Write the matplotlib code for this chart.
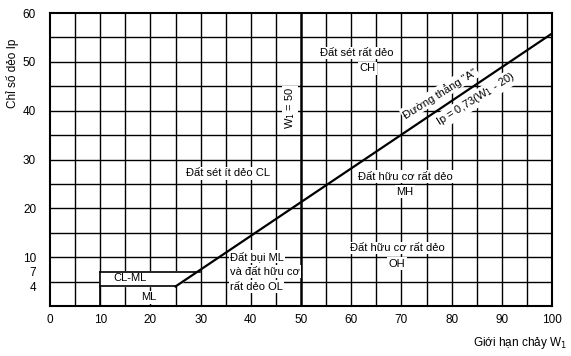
import matplotlib
matplotlib.use("Agg")
import matplotlib.pyplot as plt

plt.rcParams['font.family'] = ['Liberation Sans', 'DejaVu Sans']

# ---- data ----
x_ticks = [0, 10, 20, 30, 40, 50, 60, 70, 80, 90, 100]
y_ticks = [4, 7, 10, 20, 30, 40, 50, 60]
grid_x = [5, 10, 15, 20, 25, 30, 35, 40, 45, 55, 60, 65, 70, 75, 80, 85, 90, 95]
grid_y = [5, 10, 15, 20, 25, 30, 35, 40, 45, 50, 55]
w_line = 50
a_line_x = [25, 100]
a_line_y = [4, 55.8]
clml_poly_x = [10, 25, 29.9, 10]
clml_poly_y = [4, 4, 7, 7]

fig = plt.figure(figsize=(5.71, 3.56), dpi=100)
ax = fig.add_axes([50/571, 1-306/356, 502/571, 293/356])
ax.set_xlim(0, 100)
ax.set_ylim(0, 60)

for gx in grid_x:
    ax.axvline(gx, color='black', lw=1.0, zorder=1)
for gy in grid_y:
    ax.axhline(gy, color='black', lw=1.0, zorder=1)
ax.axvline(w_line, color='black', lw=1.8, zorder=1)

# CL-ML zone
ax.fill(clml_poly_x, clml_poly_y, color='white', zorder=2)
ax.plot([10, 10], [0, 7], color='black', lw=1.2, zorder=4)
ax.plot([10, 29.9], [7, 7], color='black', lw=1.2, zorder=4)
ax.plot([10, 25], [4, 4], color='black', lw=1.2, zorder=4)
ax.plot(a_line_x, a_line_y, color='black', lw=1.6, zorder=5)

for s in ax.spines.values():
    s.set_linewidth(1.5)
    s.set_zorder(6)

ax.set_xticks(x_ticks)
ax.set_yticks(y_ticks)
ax.tick_params(axis='both', length=0, labelsize=8.5)
ax.tick_params(axis='y', pad=10)
ax.tick_params(axis='x', pad=6)
ax.set_yticks([4, 7], minor=True)
ax.tick_params(axis='y', which='minor', length=5, direction='inout', width=1)

ax.set_ylabel('Chỉ số dẻo Ip', fontsize=8.5)
ax.yaxis.set_label_coords(-0.062, 0.793)
ax.text(0.936, -0.126, 'Giới hạn chảy W$_1$', transform=ax.transAxes,
        ha='center', va='center', fontsize=8.5)

box = dict(boxstyle='square,pad=0.12', fc='white', ec='none')
fs = 8

def lbl(x, y, s, **kw):
    kw.setdefault('ha', 'center')
    kw.setdefault('va', 'center')
    ax.text(x, y, s, fontsize=fs, bbox=box, zorder=3, **kw)

lbl(61.2, 51.8, 'Đất sét rất dẻo')
lbl(63.3, 48.7, 'CH')
lbl(47.8, 40.5, 'W$_1$ = 50', rotation=90)
lbl(35.5, 27.2, 'Đất sét ít dẻo CL')
lbl(70.7, 26.5, 'Đất hữu cơ rất dẻo')
lbl(70.7, 23.4, 'MH')
lbl(69.1, 11.9, 'Đất hữu cơ rất dẻo')
lbl(69.1, 8.7, 'OH')
lbl(35.9, 10.1, 'Đất bụi ML', ha='left')
lbl(35.9, 7.0, 'và đất hữu cơ', ha='left')
lbl(35.9, 3.96, 'rất dẻo OL', ha='left')
lbl(15.9, 5.7, 'CL-ML')
lbl(19.6, 1.8, 'ML')
lbl(77.6, 43.6, 'Đường thẳng "A"', rotation=32, rotation_mode='anchor')
lbl(84.8, 42.3, 'Ip = 0,73(W$_1$ - 20)', rotation=32, rotation_mode='anchor')

fig.savefig('out.png', dpi=100)
